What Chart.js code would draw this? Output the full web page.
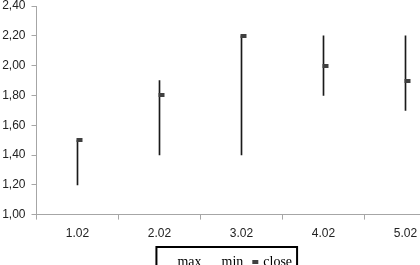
<!DOCTYPE html>
<html>
<head>
<meta charset="utf-8">
<script src="https://cdn.jsdelivr.net/npm/chart.js@4"></script>
<style>
  html, body { margin: 0; padding: 0; background: #fff; overflow: hidden; }
  #wrap { position: relative; width: 447px; height: 279px; }
</style>
</head>
<body>
<div id="wrap"><canvas id="chart"></canvas></div>
<script>
// chart data
const categories = ['1.02', '2.02', '3.02', '4.02', '5.02'];
const maxValues = [1.5, 1.9, 2.2, 2.2, 2.2];
const minValues = [1.2, 1.4, 1.4, 1.8, 1.7];
const closeValues = [1.5, 1.8, 2.2, 2.0, 1.9];
const yTicks = [1.0, 1.2, 1.4, 1.6, 1.8, 2.0, 2.2, 2.4];

const axisGray = '#a6a6a6';

// small dash for the close marker, sitting just right of the hi-low line
const closeMark = document.createElement('canvas');
closeMark.width = 12;
closeMark.height = 4;
const mctx = closeMark.getContext('2d');
mctx.fillStyle = '#404040';
mctx.fillRect(5, 0, 6, 4);

// nudge the legend a little to the right and box it in
const legendBorder = {
    id: 'legendBorder',
    afterLayout(chart) {
        chart.legend.left += 5;
        chart.legend.right += 5;
    },
    afterDraw(chart) {
        const boxes = chart.legend.legendHitBoxes;
        if (!boxes || !boxes.length) return;
        const left = Math.min(...boxes.map(b => b.left)) - 8;
        const right = Math.max(...boxes.map(b => b.left + b.width)) + 5;
        const top = boxes[0].top - 8;
        const ctx = chart.ctx;
        ctx.save();
        ctx.strokeStyle = '#000';
        ctx.lineWidth = 2;
        ctx.strokeRect(left, top, right - left, 40);
        ctx.restore();
    }
};

new Chart(document.getElementById('chart'), {
    data: {
        labels: categories,
        datasets: [
            {
                type: 'line',
                label: 'max',
                data: maxValues,
                showLine: false,
                pointRadius: 0,
                order: 0
            },
            {
                type: 'line',
                label: 'min',
                data: minValues,
                showLine: false,
                pointRadius: 0,
                order: 0
            },
            {
                type: 'line',
                label: 'close',
                data: closeValues,
                showLine: false,
                pointStyle: closeMark,
                pointRadius: 4,
                order: 0
            },
            {
                type: 'bar',
                label: 'hilow',
                data: maxValues.map((v, i) => [minValues[i], v]),
                backgroundColor: '#1a1a1a',
                borderWidth: 0,
                barThickness: 1,
                order: 1
            }
        ]
    },
    options: {
        responsive: true,
        maintainAspectRatio: false,
        animation: false,
        devicePixelRatio: 1,
        layout: { autoPadding: false, padding: { left: 0, right: 0.5, top: 6, bottom: 0 } },
        plugins: {
            tooltip: { enabled: false },
            legend: {
                position: 'bottom',
                labels: {
                    usePointStyle: true,
                    boxWidth: 6,
                    boxHeight: 6,
                    padding: 7,
                    color: '#000',
                    font: { family: 'Liberation Serif', size: 14 },
                    filter: item => item.text !== 'hilow',
                    generateLabels(chart) {
                        const items = Chart.defaults.plugins.legend.labels.generateLabels(chart);
                        return items.map(it => {
                            if (it.text !== 'close') {
                                it.fillStyle = 'rgba(0,0,0,0)';
                                it.strokeStyle = 'rgba(0,0,0,0)';
                                it.lineWidth = 0;
                            } else {
                                it.pointStyle = closeMark;
                            }
                            return it;
                        });
                    }
                }
            }
        },
        scales: {
            x: {
                offset: true,
                grid: {
                    offset: true,
                    drawOnChartArea: false,
                    drawTicks: true,
                    tickLength: 5,
                    color: axisGray
                },
                border: { color: axisGray },
                ticks: {
                    padding: 7,
                    color: '#222',
                    font: { family: 'Liberation Sans', size: 12 }
                }
            },
            y: {
                min: yTicks[0],
                max: yTicks[yTicks.length - 1],
                afterBuildTicks: axis => { axis.ticks = yTicks.map(v => ({ value: v })); },
                afterFit: axis => {
                    axis.width = 36.5;
                    axis.paddingTop = 0;
                    axis.paddingBottom = 0;
                },
                grid: {
                    drawOnChartArea: false,
                    drawTicks: true,
                    tickLength: 5,
                    color: axisGray
                },
                border: { color: axisGray },
                ticks: {
                    padding: 6,
                    color: '#222',
                    font: { family: 'Liberation Sans', size: 12 },
                    callback: v => Number(v).toFixed(2).replace('.', ',')
                }
            }
        }
    },
    plugins: [legendBorder]
});
</script>
</body>
</html>
